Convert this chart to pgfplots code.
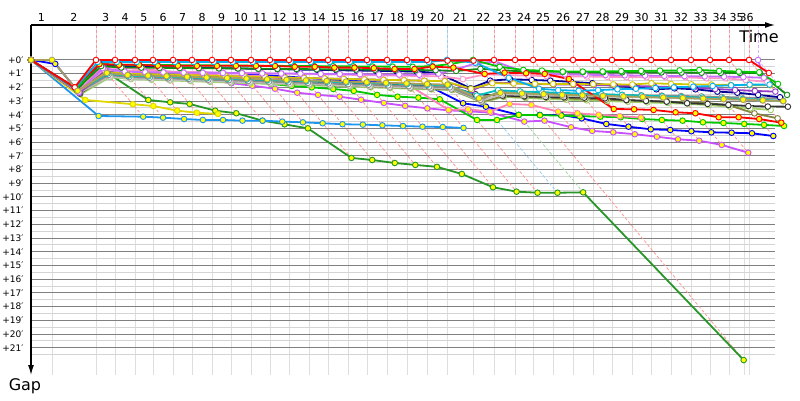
\documentclass[border=0pt]{standalone}
\usepackage{pgfplots}
\pgfplotsset{compat=1.18}
\usepackage{pgfplotstable}
\usepackage{fontspec}
\setmainfont{DejaVu Sans}
\usetikzlibrary{arrows.meta}

\definecolor{cRed}{RGB}{255,0,0}
\definecolor{cSky}{RGB}{0,176,240}
\definecolor{cGrA}{RGB}{0,200,0}
\definecolor{cGrB}{RGB}{20,140,20}
\definecolor{cMag}{RGB}{200,110,255}
\definecolor{cPkW}{RGB}{255,150,200}
\definecolor{cYlW}{RGB}{210,200,0}
\definecolor{cPur}{RGB}{150,60,200}
\definecolor{cNav}{RGB}{0,0,150}
\definecolor{cTea}{RGB}{0,190,190}
\definecolor{cGy1}{RGB}{140,140,140}
\definecolor{cGy2}{RGB}{190,190,190}
\definecolor{cBlk}{RGB}{50,50,50}
\definecolor{cOli}{RGB}{130,130,60}
\definecolor{cLGr}{RGB}{160,210,110}
\definecolor{cKha}{RGB}{170,160,90}
\definecolor{cDGr}{RGB}{40,150,40}
\definecolor{cSkY}{RGB}{30,150,240}
\definecolor{cYlY}{RGB}{225,215,0}
\definecolor{cMgY}{RGB}{200,80,255}
\definecolor{cBlY}{RGB}{0,0,255}
\definecolor{cPkY}{RGB}{255,130,180}
\definecolor{cFill}{RGB}{255,255,0}
\definecolor{gridD}{RGB}{128,128,128}
\definecolor{gridL}{RGB}{212,212,212}
\definecolor{gridX}{RGB}{222,222,222}
\definecolor{lapR}{RGB}{255,150,150}
\definecolor{lapB}{RGB}{150,205,240}
\definecolor{lapG}{RGB}{160,215,160}
\definecolor{lapM}{RGB}{225,170,255}

\pgfplotsset{rider/.style 2 args={draw=#1, line width=1.8pt, mark=*, mark size=2.8pt,
  mark options={solid, fill=#2, draw=#1, line width=0.9pt}}}

% gap (min) of each driver at each leader lap; T = leader crossing time (min)
\pgfplotstableread{
T red sky gA gB mag pkw ylw pur nav tea gyA gyB blk oli lgr kha rdy gny dgr skb yly mgy bly pky
0 0 0 0 0 0 0 0 0 0 0 0 0 0 0 0 0 0 0 0 0 0 0 0 0
1.84 2.00 2.05 2.10 2.15 2.35 2.25 2.30 2.40 2.20 2.30 2.35 2.40 2.45 2.45 2.50 0 2.00 2.20 2.20 4.09 2.92 2.45 0.29 2.30
1.84 nan nan nan nan nan nan nan nan nan nan nan nan nan nan nan 2.25 nan nan nan nan nan nan 2.25 nan
5.70 0 0.15 0.30 0.45 0.60 0.70 0.90 0.80 0.30 1.00 1.10 1.20 1.05 1.15 1.25 0.95 0.30 0.85 0.85 4.14 3.23 0.90 0.70 0.50
7.37 0 0.15 0.35 0.55 0.85 0.80 1.00 1.05 0.45 1.15 1.25 1.35 1.20 1.30 1.40 1.10 0.35 1.09 2.92 4.21 3.36 1.05 0.80 0.60
9.12 0 0.15 0.36 0.56 0.90 0.82 1.03 1.08 0.50 1.19 1.30 1.40 1.25 1.35 1.45 1.14 0.36 1.15 3.09 4.31 3.70 1.15 0.83 0.66
10.70 0 0.15 0.37 0.58 0.91 0.85 1.07 1.11 0.52 1.24 1.34 1.44 1.29 1.41 1.50 1.19 0.42 1.20 3.21 4.38 3.85 1.22 0.86 0.80
12.46 0 0.15 0.38 0.59 0.93 0.87 1.10 1.14 0.55 1.28 1.39 1.49 1.34 1.46 1.55 1.23 0.42 1.28 3.70 4.38 3.94 1.34 0.89 0.95
14.12 0 0.15 0.39 0.60 0.94 0.90 1.14 1.17 0.57 1.33 1.44 1.54 1.39 1.51 1.60 1.28 0.43 1.35 3.89 4.43 nan 1.46 0.92 1.09
15.88 0 0.15 0.40 0.61 0.95 0.92 1.17 1.20 0.60 1.37 1.48 1.58 1.43 1.57 1.65 1.32 0.43 1.45 4.43 4.43 nan 1.70 0.95 1.12
17.54 0 0.15 0.41 0.62 0.96 0.95 1.21 1.24 0.62 1.41 1.53 1.63 1.48 1.62 1.70 1.36 0.43 1.63 4.70 4.50 nan 1.88 0.98 1.15
19.30 0 0.15 0.42 0.64 0.98 0.97 1.24 1.27 0.65 1.46 1.58 1.68 1.53 1.67 1.75 1.41 0.43 1.75 4.99 4.55 nan 2.10 1.10 1.17
20.96 0 0.15 0.43 0.65 0.99 1.00 1.28 1.30 0.67 1.50 1.63 1.73 1.58 1.72 1.80 1.45 0.44 1.90 7.15 4.62 nan 2.39 1.20 1.46
22.63 0 0.15 0.44 0.66 1.00 1.02 1.31 1.33 0.70 1.54 1.67 1.77 1.62 1.78 1.85 1.49 0.50 2.00 7.30 4.69 nan 2.55 1.30 1.51
24.39 0 0.15 0.45 0.68 1.02 1.05 1.35 1.36 0.72 1.59 1.72 1.82 1.67 1.83 1.90 1.54 0.50 2.12 7.52 4.72 nan 2.68 1.40 1.58
26.05 0 0.15 0.46 0.69 1.03 1.07 1.38 1.39 0.75 1.63 1.77 1.87 1.72 1.88 1.95 1.58 0.56 2.26 7.66 4.77 nan 2.90 1.50 1.75
27.81 0 0.15 0.47 0.70 1.04 1.10 1.42 1.42 0.77 1.68 1.81 1.91 1.76 1.94 2.00 1.63 0.56 2.55 7.80 4.82 nan 3.14 1.58 1.82
29.47 0 0.15 0.48 0.71 1.06 1.12 1.45 1.45 0.80 1.72 1.86 1.96 1.81 1.99 2.05 1.67 0.60 2.68 8.32 4.87 nan 3.35 1.66 1.82
31.23 0 0.15 0.49 0.72 1.07 1.15 1.48 1.48 0.82 1.76 1.91 2.01 1.86 2.04 2.10 1.71 0.66 2.75 9.29 4.89 nan 3.53 1.78 1.75
32.98 0 0.15 0.50 0.74 1.08 1.17 1.52 1.52 0.85 1.81 1.95 2.05 1.90 2.10 2.15 1.76 0.66 2.87 9.61 4.96 nan 3.68 1.90 3.65
34.74 0 0.15 0.45 0.75 1.00 1.20 1.55 1.55 0.95 1.85 2.00 2.10 1.95 2.15 2.20 1.80 0.49 4.38 9.69 nan nan 3.75 3.16 3.60
36.49 0.05 0 0.30 0.80 0.70 1.40 2.10 2.20 2.07 2.60 2.92 3.00 2.50 3.05 3.10 2.80 0.56 4.38 9.69 nan nan 3.85 3.41 3.77
38.77 0.05 0.20 0 0.65 0.25 1.05 1.70 1.65 1.51 2.20 2.31 2.50 2.60 2.65 2.70 2.40 1.02 4.01 9.66 nan nan 4.50 4.01 3.21
40.61 0 1.30 0.50 0.75 0.12 1.10 1.72 1.70 1.41 2.30 2.43 2.55 2.65 2.70 2.78 2.45 0.93 4.03 21.90 nan nan 4.43 4.01 3.28
42.46 0 2.10 0.73 0.85 0.90 1.15 1.74 1.75 1.46 2.35 2.45 2.60 2.70 2.75 2.85 2.50 0.97 4.06 nan nan nan 4.91 4.01 3.77
44.04 0 2.20 0.78 0.86 1.00 1.17 1.75 1.78 1.51 2.40 2.48 2.62 2.72 2.80 2.90 2.55 1.02 4.10 nan nan nan 5.18 4.26 3.89
45.79 0 2.25 0.85 0.87 1.05 1.19 1.76 1.80 1.60 2.45 2.50 2.65 2.75 2.85 2.95 2.58 1.39 4.14 nan nan nan 5.28 4.67 4.00
47.54 0 2.20 0.85 0.88 1.08 1.21 1.77 1.83 1.70 2.50 2.52 2.68 2.80 2.90 3.00 2.62 3.58 4.18 nan nan nan 5.42 4.87 4.10
49.30 0 2.14 0.84 0.89 1.10 1.23 1.78 1.86 1.90 2.55 2.55 2.70 2.92 2.95 3.05 2.66 3.60 4.31 nan nan nan 5.60 5.06 4.20
50.96 0 2.10 0.82 0.90 1.12 1.25 1.79 1.90 1.99 2.60 2.58 2.73 2.99 3.00 3.10 2.70 3.65 4.38 nan nan nan 5.79 5.11 nan
52.72 0 2.05 0.80 0.90 1.14 1.26 1.70 1.94 2.14 2.65 2.60 2.76 3.04 3.05 3.15 2.74 3.82 4.43 nan nan nan 5.89 5.20 nan
54.39 0 2.00 0.78 0.91 1.16 1.26 1.75 1.98 2.07 2.70 2.63 2.80 3.16 3.10 3.20 2.78 3.89 4.55 nan nan nan 6.20 5.28 nan
56.14 0 1.95 0.76 0.92 1.18 1.26 1.78 2.02 2.14 2.75 2.66 2.84 3.21 3.15 3.30 2.82 4.18 4.60 nan nan nan 6.77 5.31 nan
57.89 0 1.90 0.73 0.93 1.20 1.34 1.80 2.12 2.31 2.80 2.70 2.88 3.28 3.30 3.41 2.86 4.18 4.67 nan nan nan nan 5.35 nan
59.56 0 1.85 0.80 0.94 1.22 1.34 1.82 2.19 2.39 2.85 2.74 2.92 3.36 3.90 3.53 2.90 4.31 4.74 nan nan nan nan 5.55 nan
61.23 0 1.80 0.85 0.95 1.25 1.46 1.83 2.26 2.55 2.90 2.78 2.96 3.40 4.26 3.65 2.95 4.58 4.82 nan nan nan nan nan nan
62.98 0 1.80 0.90 0.96 1.30 1.60 1.85 2.31 2.72 3.00 2.82 3.00 3.41 nan nan 3.00 nan nan nan nan nan nan nan nan
63.77 0.95 nan 1.75 2.55 0 nan nan nan nan nan nan nan nan nan nan nan nan nan nan nan nan nan nan nan
}\laps

% leader crossings: T, top of chart, deepest gap reached on that lap
\pgfplotstableread{
T top z g
5.70 -2.55 0 4.14
7.37 -2.55 0 4.21
9.12 -2.55 0 4.31
10.70 -2.55 0 4.38
12.46 -2.55 0 4.38
14.12 -2.55 0 4.43
15.88 -2.55 0 4.43
17.54 -2.55 0 4.70
19.30 -2.55 0 4.99
20.96 -2.55 0 7.15
22.63 -2.55 0 7.30
24.39 -2.55 0 7.52
26.05 -2.55 0 7.66
27.81 -2.55 0 7.80
29.47 -2.55 0 8.32
31.23 -2.55 0 9.29
32.98 -2.55 0 9.61
34.74 -2.55 0 9.69
40.61 -2.55 0 21.90
42.46 -2.55 0 4.91
44.04 -2.55 0 5.18
45.79 -2.55 0 5.28
47.54 -2.55 0 5.42
49.30 -2.55 0 5.60
50.96 -2.55 0 5.79
52.72 -2.55 0 5.89
54.39 -2.55 0 6.20
56.14 -2.55 0 6.77
57.89 -2.55 0 5.35
59.56 -2.55 0 5.55
61.23 -2.55 0 4.82
62.98 -2.55 0 3.41
}\lapsred
\pgfplotstableread{
T top z g
36.49 -2.55 0 9.69
}\lapsblue
\pgfplotstableread{
T top z g
38.77 -2.55 0 9.66
}\lapsgreen
\pgfplotstableread{
T top z g
63.77 -2.55 0 2.55
}\lapsmag
\pgfplotstableread{
T top z g
1.84 -2.55 0 2.50
}\lapsgray

\begin{document}
\begin{tikzpicture}
\useasboundingbox (-31pt,-25pt) rectangle (769pt,375pt);
\begin{axis}[
  at={(0,0)}, anchor=south west,
  scale only axis, width=744pt, height=350pt,
  xmin=0, xmax=65.26, ymin=-2.55, ymax=22.99,
  y dir=reverse, clip=false,
  axis line style={draw=none},
  major tick length=0pt, minor tick length=0pt,
  xtick={0.92,3.77,6.54,8.25,9.91,11.58,13.29,15.00,16.71,18.42,20.13,21.80,23.51,25.22,26.93,28.64,30.35,32.11,33.86,35.62,37.63,39.69,41.54,43.25,44.92,46.67,48.42,50.13,51.84,53.56,55.27,57.02,58.73,60.40,61.89,62.76},
  xticklabels={1,2,3,4,5,6,7,8,9,10,11,12,13,14,15,16,17,18,19,20,21,22,23,24,25,26,27,28,29,30,31,32,33,34,35,36},
  minor xtick={1.84,5.70,7.37,9.12,10.70,12.46,14.12,15.88,17.54,19.30,20.96,22.63,24.39,26.05,27.81,29.47,31.23,32.98,34.74,36.49,38.77,40.61,42.46,44.04,45.79,47.54,49.30,50.96,52.72,54.39,56.14,57.89,59.56,61.23,62.54,62.98},
  xticklabel pos=upper,
  xticklabel style={font=\fontsize{11}{13}\selectfont},
  ytick={0,...,21},
  yticklabels={+0′,+1′,+2′,+3′,+4′,+5′,+6′,+7′,+8′,+9′,+10′,+11′,+12′,+13′,+14′,+15′,+16′,+17′,+18′,+19′,+20′,+21′},
  minor ytick={0.5,1.5,...,21.5},
  yticklabel style={font=\fontsize{9}{11}\selectfont, xshift=-4pt},
  xmajorgrids=false, xminorgrids=true,
  ymajorgrids=true, yminorgrids=true,
  major grid style={gridD, line width=1pt},
  minor grid style={gridL, line width=1pt},
  minor x grid style={gridX, line width=0.8pt},
]
% leader crossings and lap diagonals
\addplot[lapR, line width=0.8pt, dash pattern=on 3pt off 2pt, quiver={u=0,v=2.55}] table[x=T,y=top] {\lapsred};
\addplot[lapR, line width=0.8pt, dash pattern=on 3pt off 2pt, quiver={u=\thisrow{g},v=\thisrow{g}}] table[x=T,y=z] {\lapsred};
\addplot[lapB, line width=0.8pt, dash pattern=on 3pt off 2pt, quiver={u=0,v=2.55}] table[x=T,y=top] {\lapsblue};
\addplot[lapB, line width=0.8pt, dash pattern=on 3pt off 2pt, quiver={u=\thisrow{g},v=\thisrow{g}}] table[x=T,y=z] {\lapsblue};
\addplot[lapG, line width=0.8pt, dash pattern=on 3pt off 2pt, quiver={u=0,v=2.55}] table[x=T,y=top] {\lapsgreen};
\addplot[lapG, line width=0.8pt, dash pattern=on 3pt off 2pt, quiver={u=\thisrow{g},v=\thisrow{g}}] table[x=T,y=z] {\lapsgreen};
\addplot[lapM, line width=0.8pt, dash pattern=on 3pt off 2pt, quiver={u=0,v=2.55}] table[x=T,y=top] {\lapsmag};
\addplot[lapM, line width=0.8pt, dash pattern=on 3pt off 2pt, quiver={u=\thisrow{g},v=\thisrow{g}}] table[x=T,y=z] {\lapsmag};
\addplot[gridD, line width=0.8pt, dash pattern=on 2pt off 2pt, quiver={u=\thisrow{g},v=\thisrow{g}}] table[x=T,y=z] {\lapsgray};

% drivers, back to front
\addplot[rider={cDGr}{cFill}] table[x expr=\thisrow{T}+\thisrow{dgr}, y=dgr] {\laps};
\addplot[rider={cSkY}{cFill}] table[x expr=\thisrow{T}+\thisrow{skb}, y=skb] {\laps};
\addplot[rider={cYlY}{cFill}] table[x expr=\thisrow{T}+\thisrow{yly}, y=yly] {\laps};
\addplot[rider={cMgY}{cFill}] table[x expr=\thisrow{T}+\thisrow{mgy}, y=mgy] {\laps};
\addplot[rider={cBlY}{cFill}] table[x expr=\thisrow{T}+\thisrow{bly}, y=bly] {\laps};
\addplot[rider={cGrA}{cFill}] table[x expr=\thisrow{T}+\thisrow{gny}, y=gny] {\laps};
\addplot[rider={cPkY}{cFill}] table[x expr=\thisrow{T}+\thisrow{pky}, y=pky] {\laps};
\addplot[rider={cLGr}{white}] table[x expr=\thisrow{T}+\thisrow{lgr}, y=lgr] {\laps};
\addplot[rider={cOli}{white}] table[x expr=\thisrow{T}+\thisrow{oli}, y=oli] {\laps};
\addplot[rider={cBlk}{white}] table[x expr=\thisrow{T}+\thisrow{blk}, y=blk] {\laps};
\addplot[rider={cGy2}{white}] table[x expr=\thisrow{T}+\thisrow{gyB}, y=gyB] {\laps};
\addplot[rider={cGy1}{white}] table[x expr=\thisrow{T}+\thisrow{gyA}, y=gyA] {\laps};
\addplot[rider={cTea}{white}] table[x expr=\thisrow{T}+\thisrow{tea}, y=tea] {\laps};
\addplot[rider={cNav}{white}] table[x expr=\thisrow{T}+\thisrow{nav}, y=nav] {\laps};
\addplot[rider={cPur}{white}] table[x expr=\thisrow{T}+\thisrow{pur}, y=pur] {\laps};
\addplot[rider={cYlW}{white}] table[x expr=\thisrow{T}+\thisrow{ylw}, y=ylw] {\laps};
\addplot[rider={cPkW}{white}] table[x expr=\thisrow{T}+\thisrow{pkw}, y=pkw] {\laps};
\addplot[rider={cMag}{white}] table[x expr=\thisrow{T}+\thisrow{mag}, y=mag] {\laps};
\addplot[rider={cGrB}{white}] table[x expr=\thisrow{T}+\thisrow{gB}, y=gB] {\laps};
\addplot[rider={cGrA}{white}] table[x expr=\thisrow{T}+\thisrow{gA}, y=gA] {\laps};
\addplot[rider={cRed}{cFill}] table[x expr=\thisrow{T}+\thisrow{rdy}, y=rdy] {\laps};
\addplot[rider={cSky}{white}] table[x expr=\thisrow{T}+\thisrow{sky}, y=sky] {\laps};
\addplot[rider={cRed}{white}] table[x expr=\thisrow{T}+\thisrow{red}, y=red] {\laps};
\addplot[rider={cKha}{cFill}] table[x expr=\thisrow{T}+\thisrow{kha}, y=kha] {\laps};

% axes with arrows
\draw[line width=1.2pt, -{Latex[length=10pt,width=6pt]}] (axis cs:0,-2.55) -- (axis cs:65.26,-2.55);
\draw[line width=1.2pt, -{Latex[length=10pt,width=6pt]}] (axis cs:0,-2.55) -- (axis cs:0,22.99);
\node[font=\fontsize{16}{18}\selectfont] at (axis cs:63.86,-1.68) {Time};
\node[font=\fontsize{16}{18}\selectfont] at (axis cs:-0.53,23.8) {Gap};
\end{axis}
\end{tikzpicture}
\end{document}
